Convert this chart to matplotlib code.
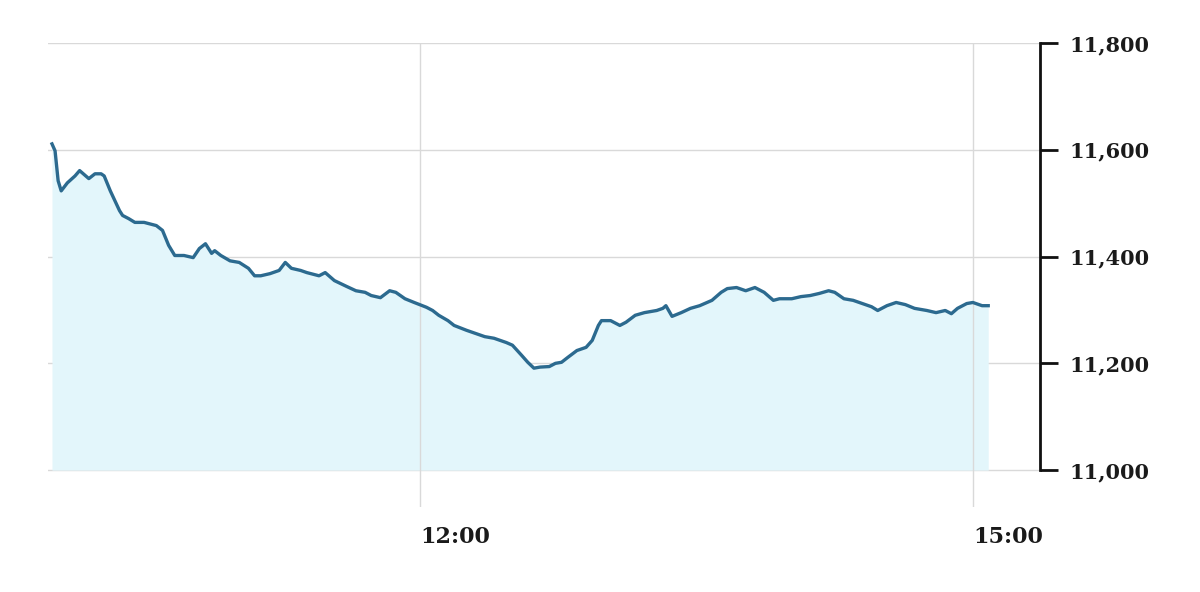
import matplotlib.pyplot as plt

# minutes after 10:00, index level
minutos = [0, 1, 2, 3, 5, 7.5, 9, 11, 12, 14, 16, 17, 19, 22, 23, 25, 27, 30, 34, 36,
           38, 40, 43, 46, 48, 50, 52, 53, 55, 58, 61, 64, 66, 68, 71, 74, 76, 78, 81, 83,
           87, 89, 92, 96, 99, 102, 104, 107, 110, 112, 115, 118, 122, 124, 126, 129, 131,
           135, 138, 141, 144, 148, 150, 153, 155, 157, 159, 162, 164, 166, 168, 171, 174,
           176, 178, 179, 182, 185, 187, 190, 193, 197, 199, 200, 202, 205, 208, 211, 215,
           216, 218, 220, 223, 226, 229, 232, 235, 237, 241, 244, 247, 250, 253, 255, 258,
           261, 264, 267, 269, 272, 275, 278, 281, 285, 288, 291, 293, 295, 298, 300, 303, 305]
valores = [11611, 11598, 11542, 11523, 11538, 11551, 11561, 11551, 11546, 11555, 11555,
           11551, 11523, 11486, 11477, 11471, 11464, 11464, 11458, 11449, 11421, 11402,
           11402, 11398, 11415, 11424, 11406, 11411, 11402, 11392, 11389, 11378, 11364,
           11364, 11368, 11374, 11389, 11378, 11374, 11370, 11364, 11370, 11355, 11344,
           11336, 11333, 11327, 11323, 11336, 11333, 11321, 11314, 11305, 11299, 11290,
           11280, 11271, 11262, 11256, 11250, 11247, 11239, 11234, 11215, 11202, 11191,
           11193, 11194, 11200, 11202, 11211, 11224, 11230, 11243, 11271, 11280, 11280,
           11271, 11277, 11290, 11295, 11299, 11303, 11308, 11288, 11295, 11303, 11308,
           11318, 11323, 11333, 11340, 11342, 11336, 11342, 11333, 11318, 11321, 11321,
           11325, 11327, 11331, 11336, 11333, 11321, 11318, 11312, 11306, 11299, 11308,
           11314, 11310, 11303, 11299, 11295, 11299, 11293, 11303, 11312, 11314, 11308, 11308]

ticks_x = [120, 300]
etiquetas_x = ['12:00', '15:00']
ticks_y = [11000, 11200, 11400, 11600, 11800]
etiquetas_y = ['11,000', '11,200', '11,400', '11,600', '11,800']

fig = plt.figure(figsize=(12, 5.92), dpi=100)
ax = fig.add_axes([0.04, 0.1436, 0.827, 0.7838])

ax.fill_between(minutos, valores, 11000, color='#e3f6fb', linewidth=0, zorder=1)
ax.plot(minutos, valores, color='#2c6a8f', linewidth=2.4, zorder=3)

ax.set_xlim(-1.3, 322)
ax.set_ylim(10931, 11800)

# grid
for y in ticks_y:
    ax.axhline(y, color='#d9d9d9', linewidth=1, zorder=0)
for x in ticks_x:
    ax.axvline(x, color='#d9d9d9', linewidth=1, zorder=2)

for s in ['top', 'left', 'bottom']:
    ax.spines[s].set_visible(False)
ax.spines['right'].set_bounds(11000, 11800)
ax.spines['right'].set_linewidth(2)
ax.spines['right'].set_color('#111111')

ax.yaxis.tick_right()
ax.set_yticks(ticks_y)
ax.set_yticklabels(etiquetas_y, fontsize=15, fontweight='bold', family='DejaVu Serif', color='#1a1a1a')
ax.tick_params(axis='y', direction='out', length=13, width=2, color='#111111', pad=8)

ax.set_xticks(ticks_x)
ax.set_xticklabels(etiquetas_x, fontsize=16, fontweight='bold', family='DejaVu Serif', color='#1a1a1a', ha='left')
ax.tick_params(axis='x', length=0, pad=14)

plt.savefig('out.png', dpi=100)
